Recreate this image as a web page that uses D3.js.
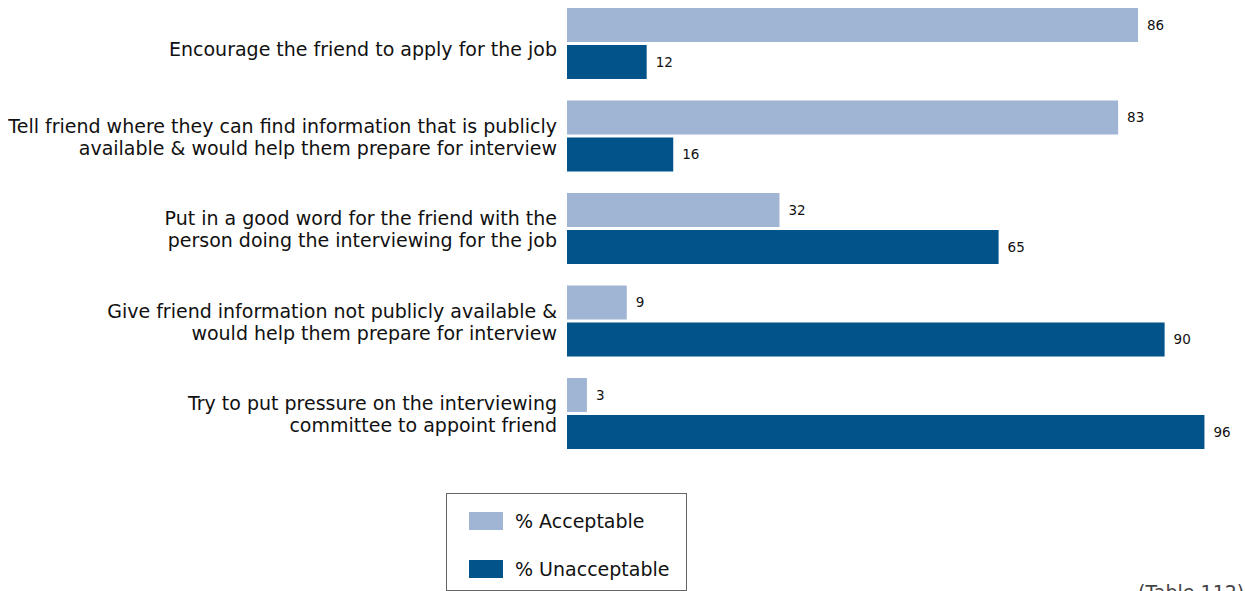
<!DOCTYPE html>
<html>
<head>
<meta charset="utf-8">
<script src="https://cdn.jsdelivr.net/npm/d3@7"></script>
<style>
  html, body { margin: 0; padding: 0; background: #fff; }
  svg { display: block; font-family: "DejaVu Sans", "Noto Sans", sans-serif; }
</style>
</head>
<body>
<svg id="chart" width="1245" height="591"></svg>
<script>
// Survey items (each entry is the list of label lines)
const categories = [
  ["Encourage the friend to apply for the job"],
  ["Tell friend where they can find information that is publicly", "available & would help them prepare for interview"],
  ["Put in a good word for the friend with the", "person doing the interviewing for the job"],
  ["Give friend information not publicly available &", "would help them prepare for interview"],
  ["Try to put pressure on the interviewing", "committee to appoint friend"]
];
const seriesNames = ["% Acceptable", "% Unacceptable"];
const acceptable = [86, 83, 32, 9, 3];
const unacceptable = [12, 16, 65, 90, 96];
const sourceNote = "(Table 112)";

const colors = ["#A0B5D4", "#01538A"];
const svg = d3.select("#chart");

const x = d3.scaleLinear().domain([0, 100]).range([567, 1231]);
const y = d3.scaleBand()
  .domain(d3.range(categories.length))
  .range([8, 449])
  .paddingInner(0.2324)
  .paddingOuter(0);
const ySub = d3.scaleBand()
  .domain([0, 1])
  .range([0, y.bandwidth()])
  .paddingInner(0.081);

const rows = categories.map((lines, i) => ({
  lines, i, values: [acceptable[i], unacceptable[i]]
}));

const group = svg.selectAll("g.row").data(rows).join("g")
  .attr("class", "row")
  .attr("transform", d => `translate(0,${y(d.i)})`);

// Bars
group.selectAll("rect").data(d => d.values.map((v, s) => ({ v, s }))).join("rect")
  .attr("x", x(0))
  .attr("y", d => ySub(d.s))
  .attr("width", d => x(d.v) - x(0))
  .attr("height", ySub.bandwidth())
  .attr("fill", d => colors[d.s]);

// Value labels
group.selectAll("text.val").data(d => d.values.map((v, s) => ({ v, s }))).join("text")
  .attr("class", "val")
  .attr("x", d => x(d.v) + 9)
  .attr("y", d => ySub(d.s) + ySub.bandwidth() / 2 + 5)
  .attr("font-size", 13.5)
  .attr("fill", "#111")
  .text(d => d.v);

// Category labels
const lineH = 22;
group.append("text")
  .attr("class", "cat")
  .attr("text-anchor", "end")
  .attr("font-size", 19)
  .attr("fill", "#111")
  .each(function(d) {
    const n = d.lines.length;
    const mid = y.bandwidth() / 2 + 2;
    const first = mid - (n - 1) * lineH / 2 + (n === 1 ? 10 : 6);
    d3.select(this).selectAll("tspan").data(d.lines).join("tspan")
      .attr("x", 557)
      .attr("y", (t, k) => first + k * lineH)
      .text(t => t);
  });

// Legend
const legend = svg.append("g");
legend.append("rect")
  .attr("x", 446.5).attr("y", 493.5)
  .attr("width", 240).attr("height", 97)
  .attr("fill", "none").attr("stroke", "#666").attr("stroke-width", 1);
seriesNames.forEach((name, s) => {
  legend.append("rect")
    .attr("x", 469).attr("y", 512 + s * 48)
    .attr("width", 34).attr("height", 18)
    .attr("fill", colors[s]);
  legend.append("text")
    .attr("x", 515).attr("y", 528 + s * 48)
    .attr("font-size", 19).attr("fill", "#111")
    .text(name);
});

// Source note
svg.append("text")
  .attr("x", 1138).attr("y", 599)
  .attr("font-size", 19).attr("fill", "#444")
  .text(sourceNote);
</script>
</body>
</html>
